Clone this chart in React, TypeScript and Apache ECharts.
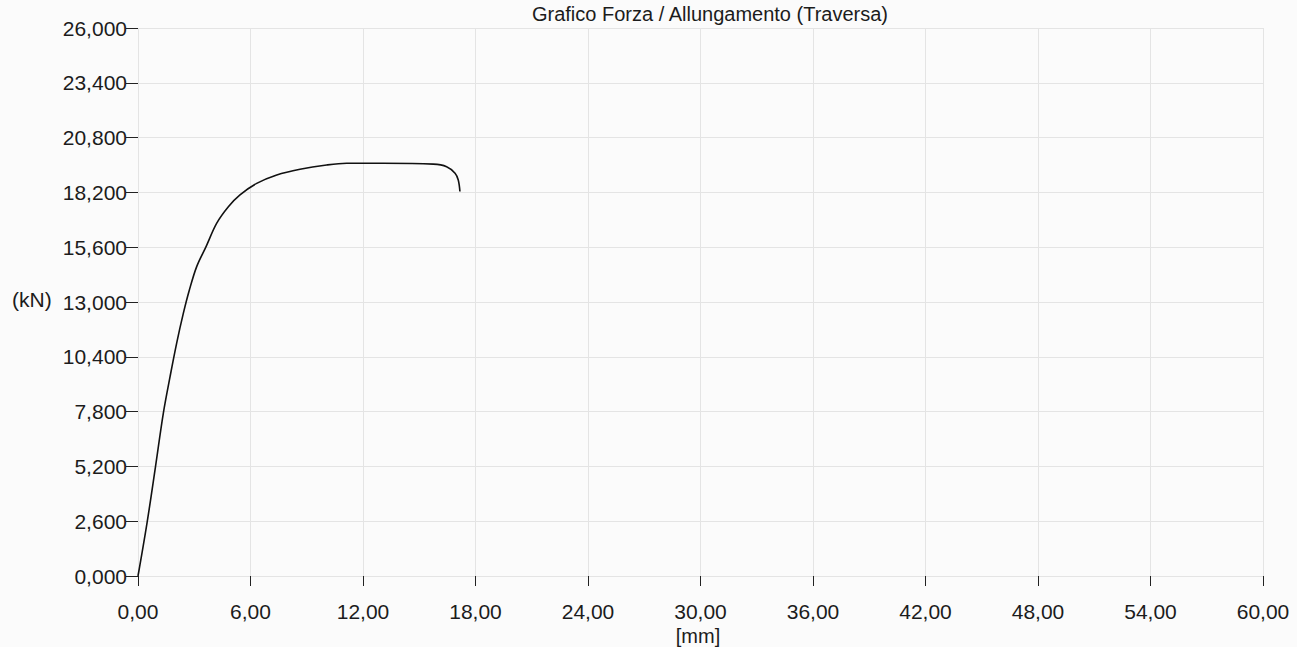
import React, { useEffect, useRef } from "react";
import * as echarts from "echarts";

const titleText = "Grafico Forza / Allungamento (Traversa)";
const yAxisName = "(kN)";
const xAxisName = "[mm]";

// elongation (mm) and force (kN)
const elongation = [0, 0.48, 0.93, 1.35, 1.71, 2.06, 2.42, 2.74, 3.13, 3.63, 4.2, 4.82, 5.44, 6.33, 7.4, 8.64, 10.06, 11.13, 13.08, 15.75, 16.46, 16.91, 17.08, 17.17];
const force = [0, 2.51, 5.17, 7.72, 9.46, 11.04, 12.47, 13.57, 14.68, 15.63, 16.74, 17.52, 18.08, 18.63, 19.03, 19.3, 19.5, 19.58, 19.58, 19.54, 19.42, 19.11, 18.79, 18.24];

const xMin = 0;
const xMax = 60;
const xStep = 6;
const yMin = 0;
const yMax = 26;
const yStep = 2.6;

const FONT = "'Liberation Sans', Arial, sans-serif";
const TEXT = "#1c1c1c";

export default function App() {
  const ref = useRef<HTMLDivElement>(null);

  useEffect(() => {
    if (!ref.current) return;
    const chart = echarts.init(ref.current, undefined, { renderer: "svg" });
    const points = elongation.map((x, i) => [x, force[i]]);
    chart.setOption({
      animation: false,
      backgroundColor: "#fbfbfb",
      textStyle: { fontFamily: FONT },
      title: {
        text: titleText,
        left: 710,
        top: 4,
        padding: 0,
        textAlign: "center",
        textStyle: { fontFamily: FONT, fontSize: 20, fontWeight: "normal", color: TEXT },
      },
      grid: { left: 138, right: 34, top: 28, bottom: 71, containLabel: false },
      xAxis: {
        type: "value",
        min: xMin,
        max: xMax,
        interval: xStep,
        offset: 6,
        axisLine: { show: false },
        axisTick: { show: true, length: 10, lineStyle: { color: "#222", width: 1 } },
        axisLabel: {
          margin: 19,
          fontSize: 21,
          fontFamily: FONT,
          color: TEXT,
          formatter: (v: number) => v.toFixed(2).replace(".", ","),
        },
        splitLine: { show: true, lineStyle: { color: "#e4e4e4", width: 1 } },
      },
      yAxis: {
        type: "value",
        min: yMin,
        max: yMax,
        interval: yStep,
        axisLine: { show: false },
        axisTick: { show: true, length: 12, lineStyle: { color: "#222", width: 1 } },
        axisLabel: {
          margin: 11,
          fontSize: 21,
          fontFamily: FONT,
          color: TEXT,
          formatter: (v: number) => v.toFixed(3).replace(".", ","),
        },
        splitLine: { show: true, lineStyle: { color: "#e4e4e4", width: 1 } },
      },
      graphic: [
        {
          type: "text",
          left: 12,
          top: 289,
          style: { text: yAxisName, font: `21px ${FONT}`, fill: TEXT },
        },
        {
          type: "text",
          x: 698,
          y: 636,
          style: { text: xAxisName, font: `20px ${FONT}`, fill: TEXT, align: "center", verticalAlign: "middle" },
        },
      ],
      series: [
        {
          type: "line",
          data: points,
          showSymbol: false,
          smooth: 0.35,
          lineStyle: { color: "#111", width: 1.6 },
        },
      ],
    });
    return () => chart.dispose();
  }, []);

  return (
    <div
      ref={ref}
      style={{ position: "absolute", left: 0, top: 0, width: 1297, height: 647 }}
    />
  );
}
